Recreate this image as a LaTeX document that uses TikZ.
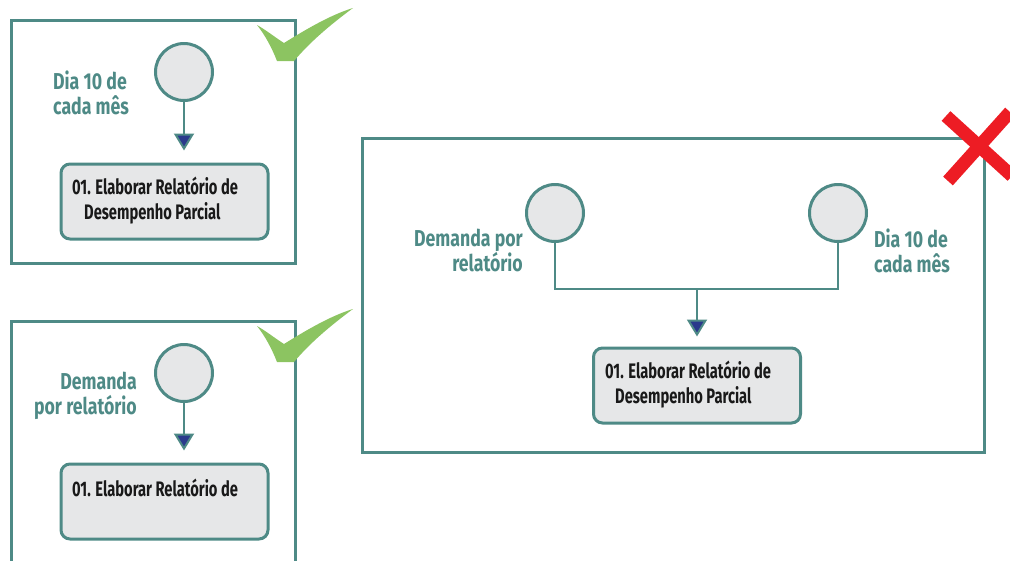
\documentclass[tikz,border=0pt]{standalone}
\usepackage{fontspec}
\setmainfont{Fira Sans}
\newfontfamily\cond{Fira Sans}[FakeStretch=0.70]
\newfontfamily\condl{Fira Sans}[FakeStretch=0.77]
\usetikzlibrary{arrows.meta}
\definecolor{teal1}{HTML}{4E8A86}
\definecolor{boxgray}{HTML}{E6E7E8}
\definecolor{arrowblue}{HTML}{2B3A8C}
\definecolor{checkgreen}{HTML}{8CC461}
\definecolor{xred}{HTML}{ED1C24}
\tikzset{
  frame/.style={draw=teal1, line width=3pt},
  event/.style={circle, draw=teal1, fill=boxgray, line width=3pt, minimum size=57pt, inner sep=0pt},
  task/.style={draw=teal1, fill=boxgray, line width=3pt, rounded corners=9pt, minimum width=207pt, minimum height=75pt, inner sep=0pt},
  tasktext/.style={font=\cond\bfseries\fontsize{21}{25}\selectfont, text=black!90, align=left, anchor=north west, inner sep=0pt},
  lbl/.style={font=\condl\bfseries\fontsize{23}{25}\selectfont, text=teal1, inner sep=0pt},
  flow/.style={draw=teal1, line width=2.5pt, -{Triangle[length=17pt,width=20pt,fill=arrowblue,line width=2pt]}},
  link/.style={draw=teal1, line width=2.5pt},
}
\newcommand{\checkmark}[2]{%
  \fill[checkgreen, shift={(#1,#2)}] (257,25) .. controls (266,30) and (276,38) .. (284,43)
    .. controls (305,30) and (330,15) .. (353,8)
    .. controls (330,25) and (310,42) .. (294,61)
    -- (277,61) .. controls (272,48) and (265,35) .. cycle;}
\begin{document}
\begin{tikzpicture}[x=1pt,y=-1pt]
\useasboundingbox (0,0) rectangle (1010,560);
% ---- panel 1
\draw[frame] (11,20) rectangle (295,263);
\node[event] (c1) at (184,72) {};
\node[task] (t1) at (164.5,201.5) {};
\node[tasktext] (tt1) at (72,177) {01. Elaborar Relatório de\\\hspace*{12pt}Desempenho Parcial};
\node[lbl, align=left, anchor=north west] (l1) at (53,71) {Dia 10 de\\cada mês};
\draw[flow, shorten >=12pt] (c1.south) -- (c1.south |- t1.north);
\checkmark{0}{0}
% ---- panel 2
\draw[frame] (11,321) rectangle (295,580);
\node[event] (c2) at (184,373) {};
\node[task] (t2) at (164.5,501.5) {};
\node[tasktext] (tt2) at (72,479) {01. Elaborar Relatório de};
\node[lbl, align=right, anchor=north east] (l2) at (137,372) {Demanda\\por relatório};
\draw[flow, shorten >=12pt] (c2.south) -- (c2.south |- t2.north);
\checkmark{0}{301}
% ---- panel 3
\draw[frame] (362,138) rectangle (984,452);
\node[event] (c3) at (555,213) {};
\node[event] (c4) at (838,213) {};
\coordinate (j) at (697,289);
\node[task] (t3) at (697,385.5) {};
\node[tasktext] (tt3) at (605,361) {01. Elaborar Relatório de\\\hspace*{10pt}Desempenho Parcial};
\node[lbl, align=right, anchor=north east] (l3) at (523,229) {Demanda por\\relatório};
\node[lbl, align=left, anchor=north west] (l4) at (874,229) {Dia 10 de\\cada mês};
\draw[link] (c3.south) |- (j);
\draw[link] (c4.south) |- (j);
\draw[flow, shorten >=10pt] (j) -- (t3.north);
% red X
\draw[xred, line width=13pt] (946,116) -- (1012,176);
\draw[xred, line width=13pt] (1010,112) -- (948,181);
\end{tikzpicture}
\end{document}
